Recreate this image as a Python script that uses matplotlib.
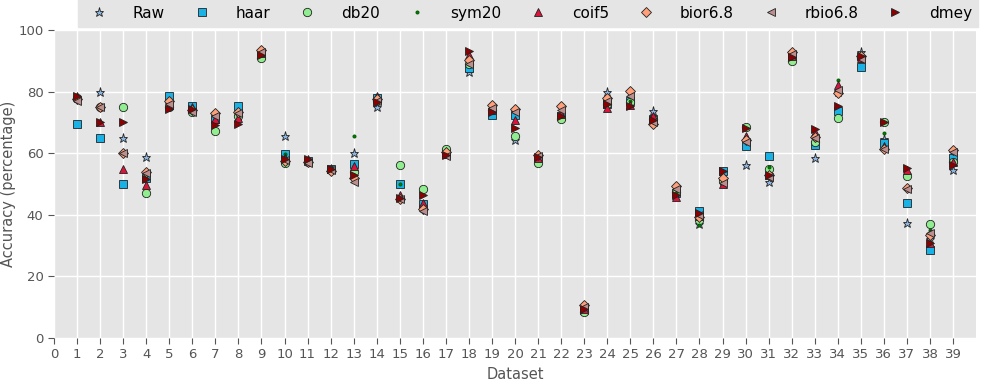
import numpy as np
import matplotlib
matplotlib.use('Agg')
import matplotlib.pyplot as plt

# Accuracy per dataset (1..39) for each signal representation
datasets = list(range(1, 40))

raw = [78, 80, 65, 58.7, 76, 74.5, 71, 72, 92.5, 65.6,
       57.5, 55, 60, 75, 45.5, 43, 60, 86.5, 74, 64.2,
       58.5, 72, 9, 80, 77, 73.8, 47, 37, 51, 56.2,
       50.5, 92, 58.3, 80, 93, 64.5, 37.4, 32, 54.5]
haar = [69.5, 65, 50, 52, 78.5, 75.3, 71, 75.4, 92, 59.7,
        57.5, 55, 56.4, 78, 49.9, 43.5, 60, 87.6, 72.3, 72.3,
        58.5, 72, 9, 76, 77, 71, 47, 41.3, 54.3, 62.3,
        59.1, 92, 62.7, 73.8, 88, 63.4, 43.7, 28.6, 58.3]
db20 = [78, 75, 75, 47.2, 75, 73.5, 67.2, 72, 91, 56.8,
        57, 54.5, 54, 77, 56.2, 48.3, 61.3, 89, 74, 65.6,
        56.8, 71.2, 8.5, 76, 76.7, 71, 47.5, 38.3, 51, 68.6,
        55, 90, 63.8, 71.3, 91, 70.2, 52.7, 36.9, 57]
sym20 = [78, 75, 60, 52, 75, 74, 70, 72, 92, 59.7,
         57.5, 55, 65.6, 77, 49.9, 43, 60, 89, 74, 70,
         58, 72, 9, 76.5, 77, 71, 47, 36.7, 51, 65,
         55.4, 91.5, 65, 83.8, 92.5, 66.5, 54, 35, 57]
coif5 = [78.5, 70, 55, 49.7, 75.5, 75, 71, 71.3, 92.5, 58.5,
         58, 55, 56, 78.7, 46.4, 43.8, 59.8, 92, 74, 70.8,
         58.5, 72.6, 9.5, 74.8, 75.6, 72, 45.9, 39.5, 50, 65.6,
         52.9, 91.5, 67, 82.1, 91, 62.3, 54.5, 31, 57.3]
bior68 = [77.5, 75, 60, 54, 77, 74, 73, 73.4, 93.5, 57.5,
          57, 54.3, 51.8, 77.5, 45.3, 42, 60.3, 90.2, 75.5, 74.5,
          59.5, 75.2, 10.7, 77.8, 80.3, 69.5, 49.4, 39.4, 51.8, 64.3,
          53, 92.8, 65.4, 79.7, 91.5, 61.3, 48.6, 33.5, 61]
rbio68 = [77, 75, 60, 53.5, 76, 73.5, 72, 73, 93, 57.8,
          56.8, 54.5, 50.5, 77, 45, 41.2, 59, 89, 74.8, 73.5,
          59, 74, 10.2, 77, 78.6, 70, 48.3, 39.9, 50.4, 63.8,
          52.4, 92.3, 65, 80.5, 90.5, 61.5, 48.3, 34, 60.5]
dmey = [78.5, 70, 70, 51.5, 74.2, 74.2, 69.2, 69.5, 92, 58,
        58, 55, 53, 76.5, 45.5, 46.4, 59.3, 93.3, 73.5, 68.3,
        58.8, 72, 9.5, 76, 75.2, 70.8, 46.4, 40.7, 54.2, 68.1,
        52.9, 91.3, 68, 75.3, 91.5, 70.2, 55.1, 31, 56.2]

series = [
    ('Raw', raw, '*', '#8DB6E0', 6.5),
    ('haar', haar, 's', '#19B2E6', 5.5),
    ('db20', db20, 'o', '#90EE90', 6),
    ('sym20', sym20, '.', '#008000', 4.5),
    ('coif5', coif5, '^', '#DC143C', 6),
    ('bior6.8', bior68, 'D', '#FFA07A', 5.5),
    ('rbio6.8', rbio68, '<', '#BC8F8F', 6),
    ('dmey', dmey, '>', '#8B0000', 6),
]

fig = plt.figure(figsize=(9.9, 3.85), dpi=100)
ax = fig.add_axes([0.0545, 0.122, 0.9315, 0.8])
ax.set_facecolor('#E5E5E5')
for s in ax.spines.values():
    s.set_visible(False)
ax.grid(True, color='white', linewidth=1.0)
ax.set_axisbelow(True)

for label, vals, marker, color, ms in series:
    ax.plot(datasets, vals, linestyle='none', marker=marker, color=color,
            markersize=ms, markeredgecolor='#222222' if marker != '.' else '#005500',
            markeredgewidth=0.6, label=label)

ax.set_xlim(0, 40)
ax.set_ylim(0, 100)
ax.set_xticks(range(0, 40))
ax.set_yticks(range(0, 101, 20))
ax.tick_params(axis='both', colors='#555555', labelsize=9.5, direction='out',
               length=4, top=False, right=False)
ax.set_xlabel('Dataset', fontsize=10.5, color='#555555')
ax.set_ylabel('Accuracy (percentage)', fontsize=10.5, color='#555555', labelpad=2)

leg = ax.legend(loc='lower left', bbox_to_anchor=(0.026, 1.01, 0.976, 0.08),
                mode='expand', ncol=8, numpoints=1, fontsize=11,
                frameon=True, fancybox=False, borderaxespad=0,
                handletextpad=1.2)
leg.get_frame().set_facecolor('#E5E5E5')
leg.get_frame().set_edgecolor('#E5E5E5')
leg.get_frame().set_alpha(1)

fig.savefig('out.png', dpi=100)
